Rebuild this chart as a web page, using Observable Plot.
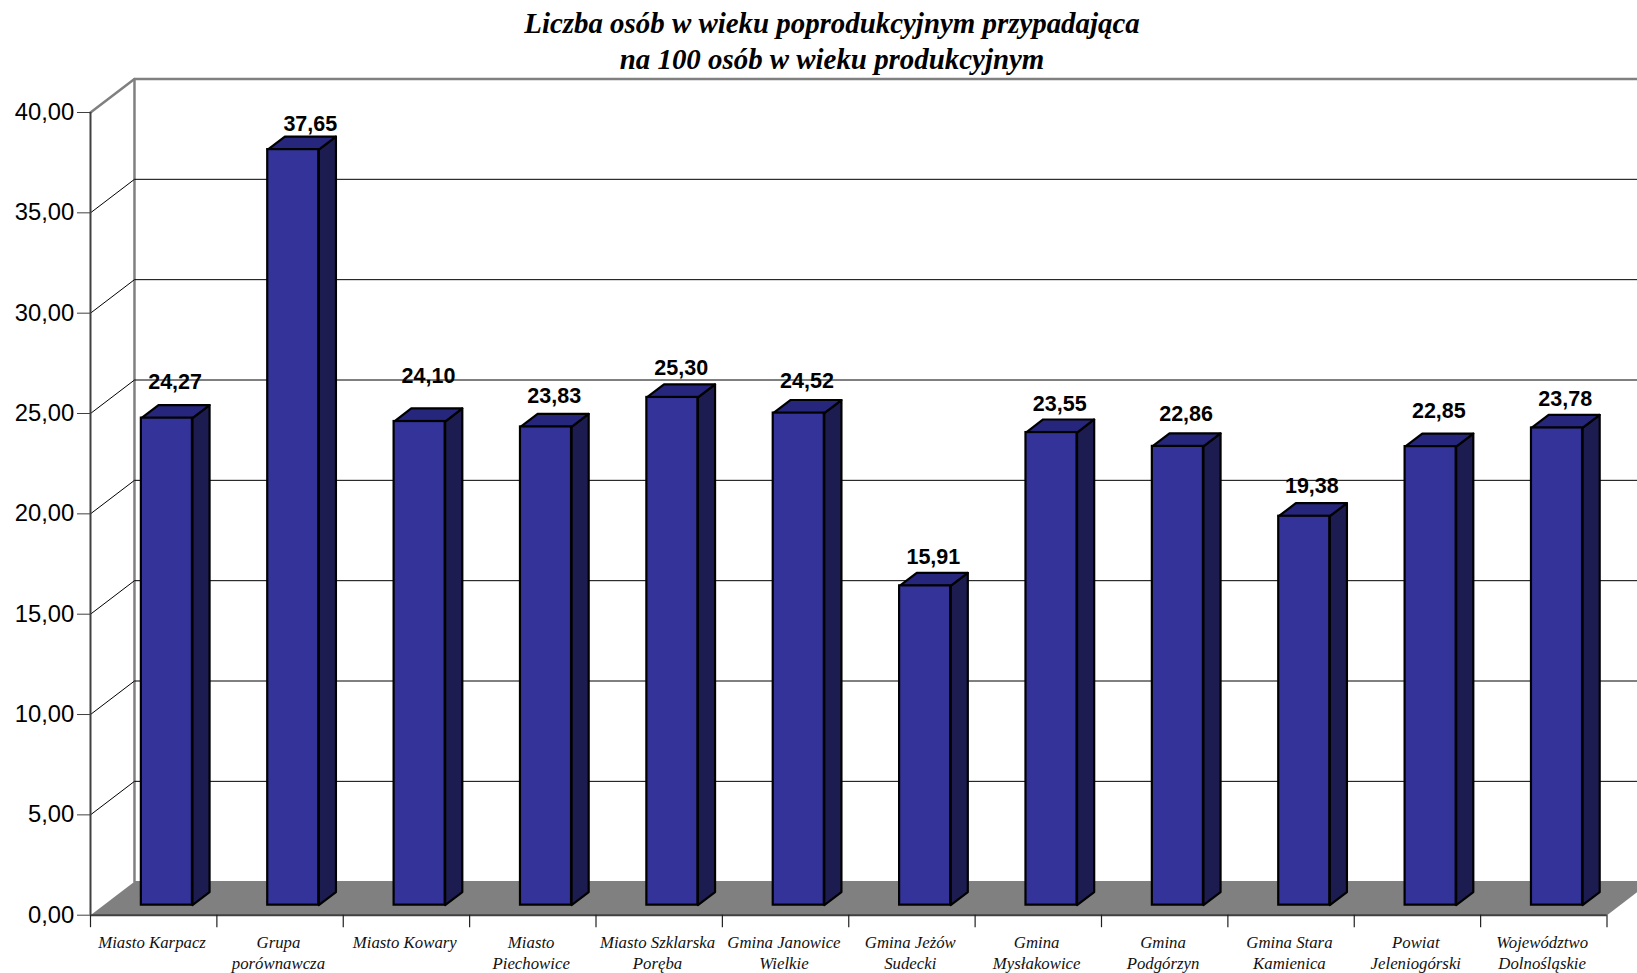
<!DOCTYPE html>
<html lang="pl">
<head>
<meta charset="utf-8">
<script src="https://cdn.jsdelivr.net/npm/d3@7"></script>
<script src="https://cdn.jsdelivr.net/npm/@observablehq/plot@0.6"></script>
<style>
html,body{margin:0;padding:0;background:#fff;overflow:hidden}
#title{height:76px;box-sizing:border-box;padding-top:6px;margin:0;width:1664px;text-align:center;font:italic bold 28.9px/35.5px "Liberation Serif","Times New Roman",serif;color:#000}
svg{display:block}
</style>
</head>
<body>
<h1 id="title">Liczba osób w wieku poprodukcyjnym przypadająca<br>na 100 osób w wieku produkcyjnym</h1>
<div id="chart"></div>
<script>
const categories = ["Miasto Karpacz","Grupa\nporównawcza","Miasto Kowary","Miasto\nPiechowice","Miasto Szklarska\nPoręba","Gmina Janowice\nWielkie","Gmina Jeżów\nSudecki","Gmina\nMysłakowice","Gmina\nPodgórzyn","Gmina Stara\nKamienica","Powiat\nJeleniogórski","Województwo\nDolnośląskie"];
const values = [24.27,37.65,24.10,23.83,25.30,24.52,15.91,23.55,22.86,19.38,22.85,23.78];
const valueLabels = ["24,27","37,65","24,10","23,83","25,30","24,52","15,91","23,55","22,86","19,38","22,85","23,78"];
const yTicks = [0,5,10,15,20,25,30,35,40];
// where the hand-placed value labels sit relative to their bar (x in categories, y in value units)
const labelShiftX = [0.065,0.135,0.07,0.065,0.07,0.065,0.065,0.065,0.065,0.06,0.065,0.065];
const labelLift = [1.77,1.28,2.25,1.55,1.45,1.6,1.45,1.4,1.6,1.5,1.75,1.45];

// oblique projection: depth z = 1 is the back wall
const DX = 0.348, DY = 1.67, CATS = categories.length;
const P = (x, y, z) => ({x: x + z * DX, y: y + z * DY});
const Z1 = 0.30, Z2 = 0.69, L = 0.298, R = 0.702;

const bars = values.map((v, i) => ({i, v, label: valueLabels[i]}));
const poly = (id, pts) => [...pts, pts[0]].map(p => ({id, ...p}));
const sides = bars.flatMap(({i, v}) => poly(i, [P(i+R,0,Z1),P(i+R,0,Z2),P(i+R,v,Z2),P(i+R,v,Z1)]));
const tops = bars.flatMap(({i, v}) => poly(i, [P(i+L,v,Z1),P(i+R,v,Z1),P(i+R,v,Z2),P(i+L,v,Z2)]));
const floor = [P(0,0,0),P(0,0,1.02),P(CATS,0,1.02),P(CATS,0,0)];
const wall = [P(0,40,0),P(0,40,1),P(CATS,40,1)];
const wallLeft = [P(0,0,1),P(0,40,1)];
const grid = yTicks.filter(t => t > 0 && t < 40).flatMap(t => [P(0,t,0),P(0,t,1),P(CATS,t,1)].map(p => ({t, ...p})));
const comma = d => d3.format(".2f")(d).replace(".", ",");

const chart = Plot.plot({
  width: 1637, height: 897,
  marginLeft: 90, marginRight: 30.5, marginTop: 36, marginBottom: 58.3,
  x: {type: "linear", domain: [0, CATS], axis: null},
  y: {type: "linear", domain: [0, 40], axis: null},
  style: {background: "#fff", overflow: "hidden"},
  marks: [
    Plot.line(floor.concat(floor[0]), {x: "x", y: "y", fill: "#808080", stroke: "none"}),
    Plot.line(wallLeft, {x: "x", y: "y", stroke: "#808080", strokeWidth: 2.5}),
    Plot.line(wall, {x: "x", y: "y", stroke: "#808080", strokeWidth: 2.5}),
    Plot.line(grid, {x: "x", y: "y", z: "t", stroke: "#000", strokeWidth: 1}),
    Plot.ruleX([0], {y1: 0, y2: 40, stroke: "#404040", strokeWidth: 2}),
    Plot.ruleY([0], {stroke: "#404040", strokeWidth: 2}),
    Plot.axisY({ticks: yTicks, label: null, tickFormat: comma, tickSize: 13, tickPadding: 3.2, fontSize: 23.8, fill: "#000", stroke: "#404040", fontFamily: "Liberation Sans, Arial, sans-serif"}),
    Plot.axisX({ticks: d3.range(CATS + 1), label: null, tickFormat: () => "", tickSize: 12.5, stroke: "#202020", strokeWidth: 1.2}),
    Plot.line(sides, {x: "x", y: "y", z: "id", fill: "#1c1c50", stroke: "#000", strokeWidth: 2.2}),
    Plot.line(tops, {x: "x", y: "y", z: "id", fill: "#26267c", stroke: "#000", strokeWidth: 2.2}),
    Plot.rect(bars, {
      x1: d => P(d.i+L, 0, Z1).x, x2: d => P(d.i+R, 0, Z1).x,
      y1: d => P(0, 0, Z1).y, y2: d => P(0, d.v, Z1).y,
      fill: "#333399", stroke: "#000", strokeWidth: 2.2
    }),
    Plot.text(bars, {
      x: d => P(d.i+0.5, 0, Z1).x + labelShiftX[d.i],
      y: d => P(0, d.v, Z1).y + labelLift[d.i],
      text: "label", fontSize: 21.5, fontWeight: "bold", fill: "#000", stroke: "none",
      fontFamily: "Liberation Sans, Arial, sans-serif"
    }),
    Plot.text(categories, {
      x: (d, i) => i + 0.487, y: () => 0, text: d => d,
      lineAnchor: "top", dy: 18, lineHeight: 1.25, fontSize: 16.8, fontStyle: "italic", fill: "#111",
      fontFamily: "Liberation Serif, Times New Roman, serif"
    })
  ]
});
document.getElementById("chart").append(chart);
</script>
</body>
</html>
